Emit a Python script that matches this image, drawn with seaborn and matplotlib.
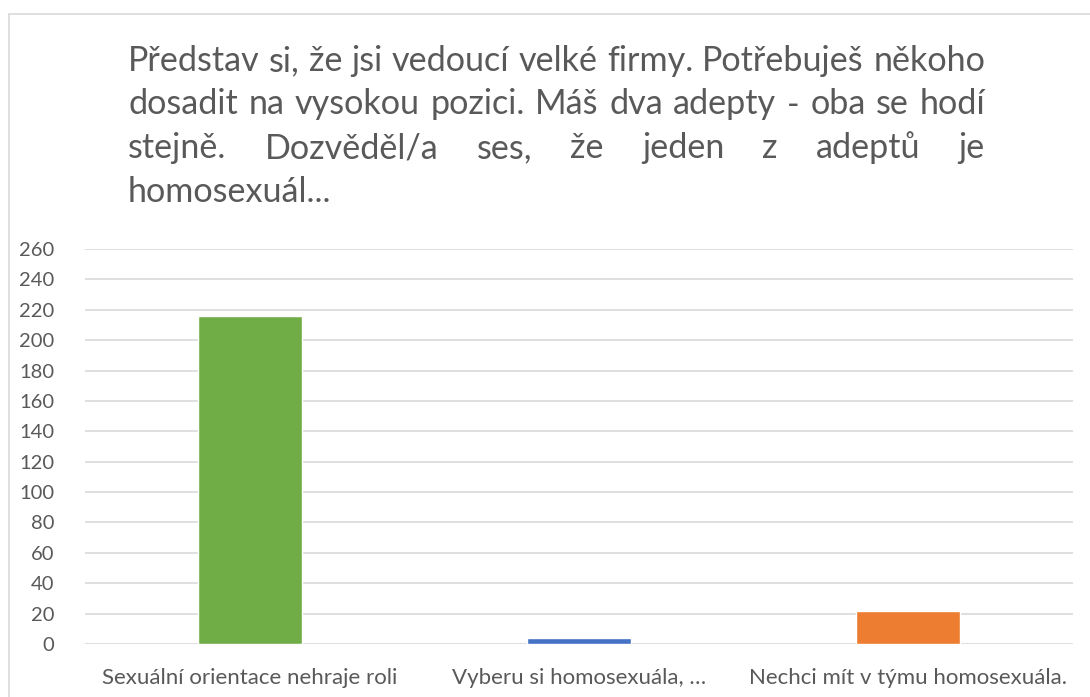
import matplotlib
matplotlib.use('Agg')
import matplotlib.pyplot as plt
import matplotlib.patches as patches
import seaborn as sns
import pandas as pd

# data
categories = ['Sexuální orientace nehraje roli', 'Vyberu si homosexuála, …', 'Nechci mít v týmu homosexuála.']
counts = [216, 4, 22]
bar_colors = ['#70AD47', '#4472C4', '#ED7D31']
y_ticks = list(range(0, 261, 20))

title_lines = [
    'Představ si, že jsi vedoucí velké firmy. Potřebuješ někoho',
    'dosadit na vysokou pozici. Máš dva adepty - oba se hodí',
    'stejně. Dozvěděl/a ses, že jeden z adeptů je',
    'homosexuál...',
]

TEXT = '#595959'
GRID = '#D9D9D9'


def draw_title(fig, lines, left_px, right_px, first_base_px, step_px, W, H):
    renderer = fig.canvas.get_renderer()
    # fit font size so the first (full) line fills the width
    probe = fig.text(0, 0, lines[0], fontsize=20, family='Lato')
    w = probe.get_window_extent(renderer).width
    probe.remove()
    size = 20 * (right_px - left_px) / w
    for i, line in enumerate(lines):
        y = 1 - (first_base_px + i * step_px) / H
        words = line.split(' ')
        if i == len(lines) - 1:
            fig.text(left_px / W, y, line, fontsize=size, family='Lato', color=TEXT, va='baseline')
            continue
        # justified line: spread the words over the full width
        widths = []
        for wd in words:
            t = fig.text(0, 0, wd, fontsize=size, family='Lato')
            widths.append(t.get_window_extent(renderer).width)
            t.remove()
        gap = (right_px - left_px - sum(widths)) / (len(words) - 1)
        x = left_px
        for wd, ww in zip(words, widths):
            fig.text(x / W, y, wd, fontsize=size, family='Lato', color=TEXT, va='baseline')
            x += ww + gap


def main():
    sns.set_style('white')
    plt.rcParams['font.family'] = ['Lato', 'DejaVu Sans']

    W, H = 1090, 697
    fig = plt.figure(figsize=(W / 100, H / 100), dpi=100)

    # chart frame
    fig.patches.append(patches.Rectangle((9 / W, -0.1), 1.2, 1 - 14 / H + 0.1, transform=fig.transFigure,
                                         fill=False, edgecolor=GRID, linewidth=1.2))

    ax = fig.add_axes([85 / W, 1 - 644 / H, (1073 - 85) / W, (644 - 249) / H])
    df = pd.DataFrame({'cat': categories, 'n': counts})
    sns.barplot(data=df, x='cat', y='n', hue='cat', palette=bar_colors, width=0.316,
                legend=False, ax=ax, saturation=1)

    ax.set_ylim(0, 260)
    ax.set_xlim(-0.5, 2.5)
    ax.set_yticks(y_ticks)
    ax.yaxis.grid(True, color=GRID, linewidth=1.2)
    ax.set_axisbelow(True)
    for s in ax.spines.values():
        s.set_visible(False)
    ax.set_xlabel('')
    ax.set_ylabel('')
    ax.tick_params(axis='y', length=0, pad=22, labelsize=14.5, labelcolor=TEXT)
    ax.tick_params(axis='x', length=0, pad=17, labelsize=16, labelcolor=TEXT)

    draw_title(fig, title_lines, 128, 985, 71, 43.5, W, H)

    plt.savefig('out.png', dpi=100)


if __name__ == "__main__":
    main()
